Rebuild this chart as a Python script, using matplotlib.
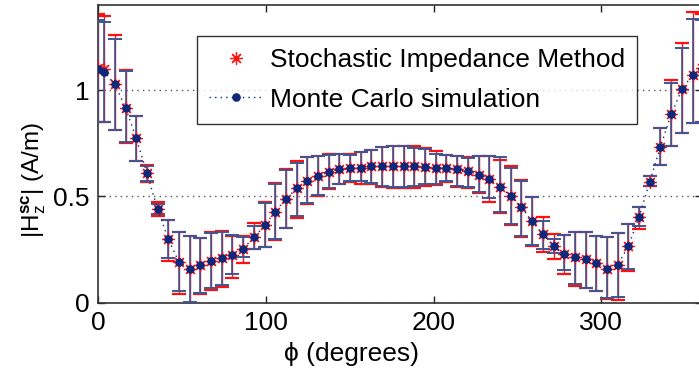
import matplotlib
matplotlib.use("Agg")
import matplotlib.pyplot as plt
import numpy as np

plt.rcParams['font.family'] = ['Liberation Sans', 'DejaVu Sans']
plt.rcParams['mathtext.fontset'] = 'custom'
plt.rcParams['mathtext.rm'] = 'Liberation Sans'
plt.rcParams['mathtext.it'] = 'Liberation Sans'
plt.rcParams['mathtext.bf'] = 'Liberation Sans:bold'

# angle (degrees)
phi = [0.0, 3.6, 10.0, 16.4, 22.7, 29.1, 35.5, 41.9, 48.2, 54.6, 61.0, 67.4, 73.8,
       80.1, 86.5, 92.9, 99.3, 105.6, 112.0, 118.4, 124.8, 131.2, 137.5, 143.9,
       150.3, 156.7, 163.0, 169.4, 175.8, 182.2, 188.6, 194.9, 201.3, 207.7,
       214.1, 220.4, 226.8, 233.2, 239.6, 246.0, 252.3, 258.7, 265.1, 271.5,
       277.8, 284.2, 290.6, 297.0, 303.3, 309.7, 316.1, 322.5, 328.8, 335.2,
       341.6, 348.0, 354.4, 360.0]

# Monte Carlo simulation: mean, lower and upper bar ends
mc_mean = [1.100, 1.087, 1.027, 0.917, 0.775, 0.610, 0.440, 0.298, 0.191, 0.160,
           0.177, 0.197, 0.209, 0.223, 0.254, 0.306, 0.363, 0.428, 0.487, 0.537,
           0.572, 0.594, 0.615, 0.626, 0.633, 0.633, 0.641, 0.641, 0.641, 0.641,
           0.641, 0.638, 0.633, 0.633, 0.626, 0.618, 0.602, 0.582, 0.545, 0.500,
           0.450, 0.382, 0.322, 0.267, 0.229, 0.212, 0.204, 0.185, 0.158, 0.177,
           0.264, 0.402, 0.568, 0.731, 0.885, 1.003, 1.071, 1.100]
mc_low = [0.850, 0.849, 0.814, 0.755, 0.665, 0.570, 0.418, 0.209, 0.056, 0.002,
          0.043, 0.070, 0.083, 0.135, 0.216, 0.254, 0.263, 0.300, 0.352, 0.408,
          0.468, 0.504, 0.539, 0.560, 0.570, 0.570, 0.562, 0.550, 0.544, 0.544,
          0.547, 0.559, 0.560, 0.570, 0.547, 0.544, 0.519, 0.490, 0.426, 0.369,
          0.314, 0.271, 0.253, 0.235, 0.153, 0.086, 0.070, 0.056, 0.020, 0.025,
          0.157, 0.358, 0.547, 0.649, 0.736, 0.799, 0.846, 0.850]
mc_high = [1.330, 1.321, 1.239, 1.090, 0.877, 0.644, 0.465, 0.386, 0.333, 0.311,
           0.305, 0.327, 0.334, 0.319, 0.306, 0.358, 0.468, 0.558, 0.622, 0.657,
           0.685, 0.688, 0.696, 0.700, 0.692, 0.707, 0.717, 0.731, 0.736, 0.736,
           0.728, 0.723, 0.700, 0.692, 0.688, 0.680, 0.688, 0.688, 0.685, 0.634,
           0.571, 0.497, 0.383, 0.298, 0.319, 0.331, 0.331, 0.314, 0.306, 0.327,
           0.371, 0.448, 0.594, 0.822, 1.035, 1.200, 1.334, 1.330]

# Stochastic Impedance Method: mean, lower and upper bar ends
sim_mean = [1.105, 1.098, 1.027, 0.917, 0.775, 0.610, 0.440, 0.298, 0.191, 0.160,
            0.177, 0.197, 0.209, 0.223, 0.254, 0.306, 0.363, 0.428, 0.487, 0.537,
            0.572, 0.594, 0.615, 0.626, 0.633, 0.633, 0.641, 0.641, 0.641, 0.641,
            0.641, 0.638, 0.633, 0.633, 0.626, 0.618, 0.602, 0.582, 0.545, 0.500,
            0.450, 0.382, 0.322, 0.267, 0.229, 0.212, 0.204, 0.185, 0.158, 0.177,
            0.264, 0.402, 0.568, 0.731, 0.885, 1.003, 1.071, 1.105]
sim_low = [0.850, 0.849, 0.810, 0.752, 0.665, 0.565, 0.405, 0.193, 0.040, -0.010,
           0.039, 0.059, 0.075, 0.114, 0.185, 0.250, 0.263, 0.295, 0.350, 0.400,
           0.465, 0.500, 0.535, 0.559, 0.565, 0.559, 0.559, 0.545, 0.537, 0.537,
           0.540, 0.550, 0.555, 0.565, 0.545, 0.540, 0.515, 0.475, 0.420, 0.365,
           0.310, 0.266, 0.240, 0.204, 0.135, 0.078, 0.066, 0.052, 0.015, 0.013,
           0.150, 0.347, 0.547, 0.649, 0.736, 0.799, 0.846, 0.850]
sim_high = [1.360, 1.347, 1.258, 1.094, 0.877, 0.648, 0.473, 0.389, 0.333, 0.311,
            0.305, 0.331, 0.338, 0.312, 0.315, 0.374, 0.471, 0.563, 0.626, 0.665,
            0.685, 0.690, 0.700, 0.700, 0.698, 0.707, 0.717, 0.731, 0.736, 0.736,
            0.736, 0.725, 0.712, 0.692, 0.690, 0.685, 0.688, 0.688, 0.670, 0.641,
            0.578, 0.497, 0.402, 0.323, 0.319, 0.331, 0.331, 0.314, 0.306, 0.327,
            0.371, 0.448, 0.594, 0.822, 1.046, 1.219, 1.365, 1.360]

x_ticks = [0, 100, 200, 300]
y_ticks = [0, 0.5, 1]
y_tick_labels = ['0', '0.5', '1']

phi_a = np.array(phi)
mc_m, mc_l, mc_h = map(np.array, (mc_mean, mc_low, mc_high))
si_m, si_l, si_h = map(np.array, (sim_mean, sim_low, sim_high))

fig = plt.figure(figsize=(6.99, 3.77), dpi=100)
ax = fig.add_axes([98 / 699, (377 - 302.5) / 377, 604 / 699, 297.5 / 377])

red = '#ff1010'
blue_bar = '#3d5795'
blue_dot = '#10287a'

ax.errorbar(phi_a, si_m, yerr=[si_m - si_l, si_h - si_m], fmt='none',
            ecolor=red, elinewidth=1.0, capsize=5, capthick=1.6, zorder=2)
ax.errorbar(phi_a, mc_m, yerr=[mc_m - mc_l, mc_h - mc_m], fmt='none',
            ecolor=blue_bar, elinewidth=1.2, capsize=5, capthick=1.4, zorder=3)
ax.plot(phi_a, si_m, linestyle='none', marker=(8, 2, 0), markersize=9,
        markeredgewidth=0.9, color=red, label='Stochastic Impedance Method', zorder=4)
ax.plot(phi_a, mc_m, linestyle=(0, (1, 3)), linewidth=1.0, marker='o', markersize=5.2,
        color=blue_dot, label='Monte Carlo simulation', zorder=5)

ax.set_xlim(0, 360)
ax.set_ylim(0, 1.4)
ax.set_xticks(x_ticks)
ax.set_yticks(y_ticks)
ax.set_yticklabels(y_tick_labels)
ax.tick_params(direction='in', length=5, width=1, labelsize=19, top=True, right=True,
               colors='#222222', labelcolor='black')
ax.tick_params(axis='x', pad=6)
ax.tick_params(axis='y', pad=6)
for s in ax.spines.values():
    s.set_linewidth(1.2)
    s.set_color('#333333')

ax.yaxis.grid(True, linestyle=(0, (1, 3)), color='#555555', linewidth=1.0)
ax.set_axisbelow(True)

ax.set_xlabel('ϕ (degrees)', fontsize=19)
ax.xaxis.set_label_coords((352 - 98) / 604, -0.132)
ax.set_ylabel(r'$|\mathrm{H}_\mathrm{z}^{\mathbf{sc}}|$ (A/m)', fontsize=17.5)
ax.yaxis.set_label_coords(-(98 - 48) / 604, (302.5 - 180) / 297.5)

leg = ax.legend(loc='upper left', bbox_to_anchor=((197 - 98) / 604, (302.5 - 36) / 297.5),
                fontsize=19, frameon=True, fancybox=False, handlelength=2.08,
                handletextpad=0.25, borderpad=0.45, labelspacing=0.6,
                borderaxespad=0.0)
leg.get_frame().set_edgecolor('black')
leg.get_frame().set_linewidth(1.0)

fig.savefig('out.png', dpi=100)
